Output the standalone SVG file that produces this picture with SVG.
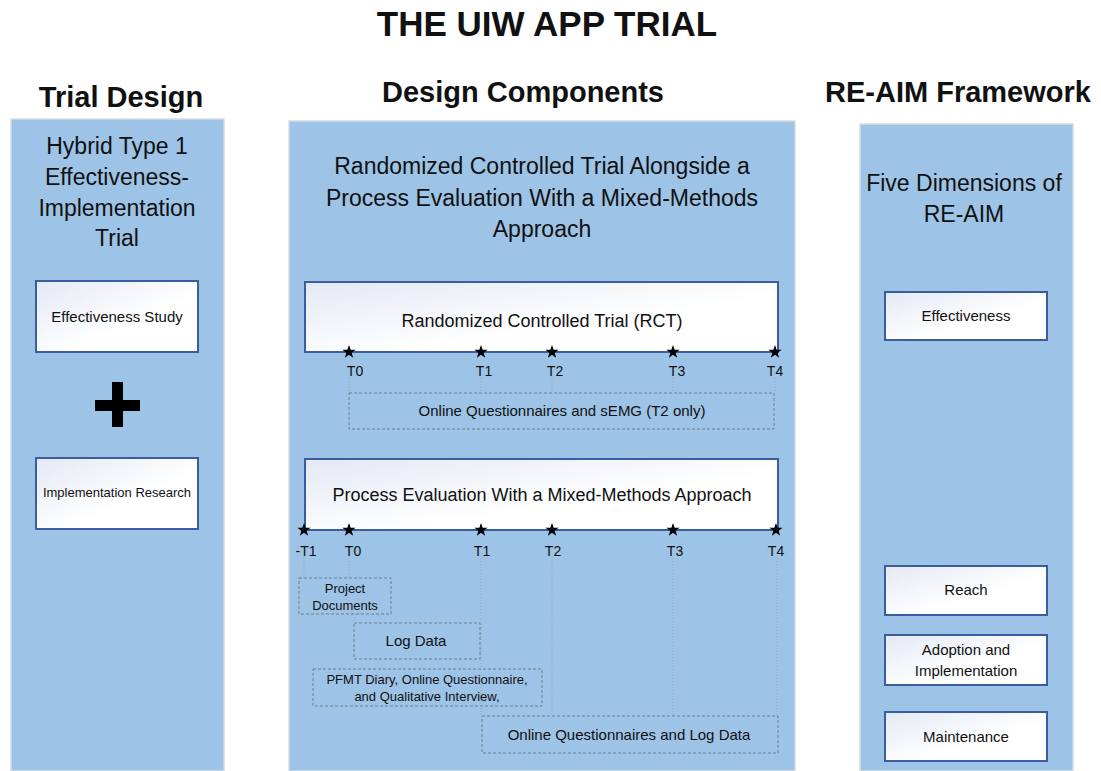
<svg xmlns="http://www.w3.org/2000/svg" width="1101" height="771" viewBox="0 0 1101 771">
<style>
text{font-family:"Liberation Sans",Arial,sans-serif;fill:#111;text-anchor:middle}
.title{font-weight:bold;font-size:35px}
.hdr{font-weight:bold;font-size:29px}
.big{font-size:23px}
.mid{font-size:18px}
.sm{font-size:15px}
.t{font-size:14px}
.xs{font-size:13px}
.panel{fill:#9DC3E6;stroke:#D6DCE4;stroke-width:1.5}
.box{fill:url(#g);stroke:#3B5C9E;stroke-width:2}
.dash{fill:none;stroke:#6F7F8F;stroke-width:1;stroke-dasharray:3 2}
.dot{stroke:#8FA3B8;stroke-width:1;stroke-dasharray:1 2}
</style>
<defs>
<linearGradient id="g" x1="0" y1="0" x2="1" y2="1">
<stop offset="0" stop-color="#E3E9F4"/>
<stop offset="0.6" stop-color="#FFFFFF"/>
</linearGradient>
<path id="star" d="M0,-7 L1.65,-2.27 L6.66,-2.16 L2.67,0.87 L4.11,5.66 L0,2.8 L-4.11,5.66 L-2.67,0.87 L-6.66,-2.16 L-1.65,-2.27 Z" fill="#000"/>
</defs>
<rect width="1101" height="771" fill="#fff"/>
<text class="title" x="547" y="36">THE UIW APP TRIAL</text>
<text class="hdr" x="121" y="107">Trial Design</text>
<text class="hdr" x="523" y="102">Design Components</text>
<text class="hdr" x="958" y="102">RE-AIM Framework</text>

<g id="panel-trial-design">
<rect class="panel" x="11" y="119" width="213" height="652"/>
<text class="big" x="117" y="154">Hybrid Type 1</text>
<text class="big" x="117" y="185">Effectiveness-</text>
<text class="big" x="117" y="216">Implementation</text>
<text class="big" x="117" y="246">Trial</text>
</g>
<g id="node-effectiveness-study">
<rect class="box" x="36" y="281" width="162" height="71"/>
<text class="sm" x="117" y="322">Effectiveness Study</text>
</g>
<g id="plus">
<rect x="95" y="400" width="45" height="11" fill="#000"/>
<rect x="112" y="382" width="11" height="45" fill="#000"/>
</g>
<g id="node-implementation-research">
<rect class="box" x="36" y="458" width="162" height="71"/>
<text class="xs" x="117" y="497">Implementation Research</text>
</g>

<g id="panel-design-components">
<rect class="panel" x="289" y="121" width="506" height="650"/>
<text class="big" x="542" y="174">Randomized Controlled Trial Alongside a</text>
<text class="big" x="542" y="206">Process Evaluation With a Mixed-Methods</text>
<text class="big" x="542" y="237">Approach</text>
</g>

<g id="connectors">
<line class="dot" x1="349" y1="378" x2="349" y2="393"/>
<line class="dot" x1="481" y1="378" x2="481" y2="393"/>
<line class="dot" x1="552" y1="378" x2="552" y2="393"/>
<line class="dot" x1="673" y1="378" x2="673" y2="393"/>
<line class="dot" x1="775" y1="378" x2="775" y2="393"/>
<line class="dot" x1="304" y1="558" x2="304" y2="578"/>
<line class="dot" x1="349" y1="558" x2="349" y2="578"/>
<line class="dot" x1="354" y1="614" x2="354" y2="623"/>
<line class="dot" x1="481" y1="558" x2="481" y2="716"/>
<line class="dot" x1="552" y1="558" x2="552" y2="716"/>
<line class="dot" x1="673" y1="558" x2="673" y2="716"/>
<line class="dot" x1="777" y1="558" x2="777" y2="716"/>
</g>

<g id="node-rct">
<rect class="box" x="305" y="282" width="473" height="70"/>
<text class="mid" x="542" y="327">Randomized Controlled Trial (RCT)</text>
<use href="#star" x="349" y="352"/>
<use href="#star" x="481" y="352"/>
<use href="#star" x="552" y="352"/>
<use href="#star" x="673" y="352"/>
<use href="#star" x="775" y="352"/>
<text class="t" x="355" y="376">T0</text>
<text class="t" x="484" y="376">T1</text>
<text class="t" x="555" y="376">T2</text>
<text class="t" x="677" y="376">T3</text>
<text class="t" x="775" y="376">T4</text>
</g>
<g id="node-rct-measures">
<rect class="dash" x="349" y="393" width="425" height="36"/>
<text class="sm" x="562" y="416">Online Questionnaires and sEMG (T2 only)</text>
</g>

<g id="node-process">
<rect class="box" x="305" y="459" width="473" height="71"/>
<text class="mid" x="542" y="501">Process Evaluation With a Mixed-Methods Approach</text>
<use href="#star" x="304" y="530"/>
<use href="#star" x="349" y="530"/>
<use href="#star" x="481" y="530"/>
<use href="#star" x="552" y="530"/>
<use href="#star" x="673" y="530"/>
<use href="#star" x="776" y="530"/>
<text class="t" x="306" y="556">-T1</text>
<text class="t" x="353" y="556">T0</text>
<text class="t" x="482" y="556">T1</text>
<text class="t" x="553" y="556">T2</text>
<text class="t" x="675" y="556">T3</text>
<text class="t" x="776" y="556">T4</text>
</g>
<g id="node-project-documents">
<rect class="dash" x="299" y="578" width="92" height="36"/>
<text class="xs" x="345" y="593">Project</text>
<text class="xs" x="345" y="610">Documents</text>
</g>
<g id="node-log-data">
<rect class="dash" x="354" y="623" width="126" height="36"/>
<text class="sm" x="416" y="646">Log Data</text>
</g>
<g id="node-pfmt">
<rect class="dash" x="313" y="669" width="229" height="37"/>
<text class="xs" x="427" y="684">PFMT Diary, Online Questionnaire,</text>
<text class="xs" x="427" y="701">and Qualitative Interview,</text>
</g>
<g id="node-online-log">
<rect class="dash" x="482" y="716" width="296" height="37"/>
<text class="sm" x="629" y="740">Online Questionnaires and Log Data</text>
</g>

<g id="panel-reaim">
<rect class="panel" x="860" y="124" width="213" height="647"/>
<text class="big" x="964" y="191">Five Dimensions of</text>
<text class="big" x="964" y="222">RE-AIM</text>
</g>
<g id="node-effectiveness">
<rect class="box" x="885" y="292" width="162" height="48"/>
<text class="sm" x="966" y="321">Effectiveness</text>
</g>
<g id="node-reach">
<rect class="box" x="885" y="566" width="162" height="49"/>
<text class="sm" x="966" y="595">Reach</text>
</g>
<g id="node-adoption">
<rect class="box" x="885" y="635" width="162" height="50"/>
<text class="sm" x="966" y="655">Adoption and</text>
<text class="sm" x="966" y="676">Implementation</text>
</g>
<g id="node-maintenance">
<rect class="box" x="885" y="712" width="162" height="49"/>
<text class="sm" x="966" y="742">Maintenance</text>
</g>
</svg>
